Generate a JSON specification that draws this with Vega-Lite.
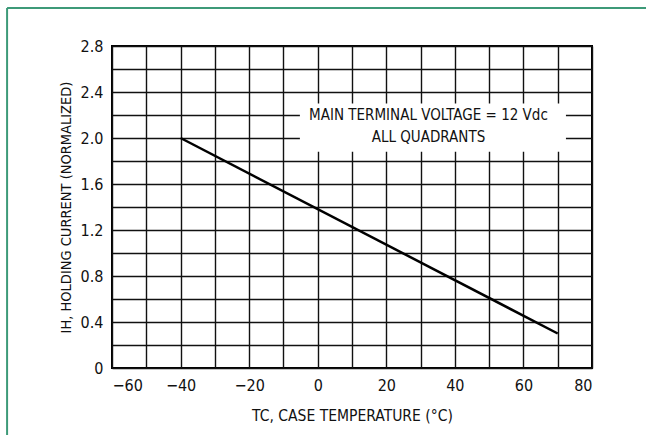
{
  "$schema": "https://vega.github.io/schema/vega-lite/v6.json",
  "width": 480,
  "height": 322,
  "autosize": {"type": "none"},
  "padding": {"left": 112, "top": 46, "right": 54, "bottom": 67},
  "background": "white",
  "config": {
    "view": {"stroke": "black", "strokeWidth": 2},
    "font": "Liberation Sans Narrow, DejaVu Sans Condensed, sans-serif",
    "axis": {
      "domain": false,
      "ticks": false,
      "grid": true,
      "gridColor": "#111111",
      "gridWidth": 1.4,
      "gridOpacity": 1,
      "labelOverlap": false,
      "tickCount": 30,
      "labelFont": "Liberation Sans Narrow, DejaVu Sans Condensed, sans-serif",
      "labelFontSize": 16,
      "labelColor": "#111111",
      "titleFont": "Liberation Sans Narrow, DejaVu Sans Condensed, sans-serif",
      "titleFontWeight": "normal",
      "titleColor": "#111111"
    }
  },
  "datasets": {
    "curve": [
      {"temp": -40, "ih": 2.0},
      {"temp": 70, "ih": 0.3}
    ]
  },
  "layer": [
    {
      "data": {"name": "curve"},
      "mark": {"type": "line", "color": "black", "strokeWidth": 2.5},
      "encoding": {
        "x": {
          "field": "temp",
          "type": "quantitative",
          "scale": {"domain": [-60, 80], "nice": false, "zero": false},
          "axis": {
            "values": [-60, -50, -40, -30, -20, -10, 0, 10, 20, 30, 40, 50, 60, 70, 80],
            "tickCount": 30,
            "format": "d",
            "labelOpacity": {"condition": {"test": "round(datum.value/10) % 2 == 0", "value": 1}, "value": 0},
            "labelPadding": 9,
            "title": "TC, CASE TEMPERATURE (°C)",
            "titleFontSize": 15.5,
            "titlePadding": 15
          }
        },
        "y": {
          "field": "ih",
          "type": "quantitative",
          "scale": {"domain": [0, 2.8], "nice": false},
          "axis": {
            "values": [0, 0.2, 0.4, 0.6, 0.8, 1.0, 1.2, 1.4, 1.6, 1.8, 2.0, 2.2, 2.4, 2.6, 2.8],
            "tickCount": 30,
            "labelExpr": "datum.value == 0 ? '0' : format(datum.value, '.1f')",
            "labelOpacity": {"condition": {"test": "round(datum.value*10) % 4 == 0", "value": 1}, "value": 0},
            "labelPadding": 9,
            "title": "IH, HOLDING CURRENT (NORMALIZED)",
            "titleFontSize": 14.5,
            "titlePadding": 7
          }
        }
      }
    },
    {
      "data": {"values": [{}]},
      "mark": {"type": "rect", "color": "white", "clip": false},
      "encoding": {
        "x": {"datum": -5.2, "type": "quantitative"},
        "x2": {"datum": 72.4},
        "y": {"datum": 2.3, "type": "quantitative"},
        "y2": {"datum": 1.88}
      }
    },
    {
      "data": {"values": [{}]},
      "mark": {
        "type": "text",
        "text": ["MAIN TERMINAL VOLTAGE = 12 Vdc", "ALL QUADRANTS"],
        "align": "center",
        "baseline": "middle",
        "lineHeight": 22,
        "fontSize": 15,
        "color": "#111111"
      },
      "encoding": {
        "x": {"datum": 32.3, "type": "quantitative"},
        "y": {"datum": 2.2, "type": "quantitative"}
      }
    },
    {
      "data": {"values": [{}]},
      "mark": {"type": "rule", "color": "#3d9a78", "strokeWidth": 2, "clip": false},
      "encoding": {
        "x": {"datum": -90.6, "type": "quantitative"},
        "y": {"datum": 3.13, "type": "quantitative"},
        "y2": {"datum": -0.8}
      }
    },
    {
      "data": {"values": [{}]},
      "mark": {"type": "rule", "color": "#3d9a78", "strokeWidth": 2, "clip": false},
      "encoding": {
        "x": {"datum": -90.6, "type": "quantitative"},
        "x2": {"datum": 100},
        "y": {"datum": 3.13, "type": "quantitative"}
      }
    }
  ]
}
